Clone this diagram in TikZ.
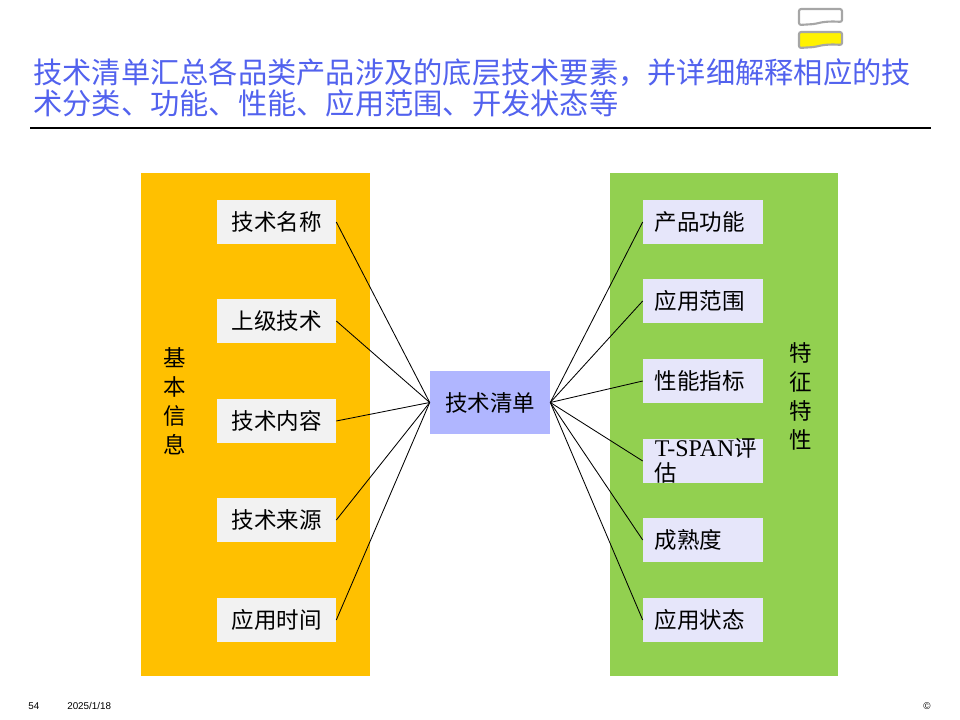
\documentclass[tikz,border=0pt]{standalone}
\usepackage{fontspec}
\setmainfont{Liberation Serif}
\newfontfamily\cjk{Noto Sans CJK SC}
\newfontfamily\foot{Liberation Sans}
\usetikzlibrary{positioning}

\definecolor{titleblue}{RGB}{82,98,238}
\definecolor{leftbg}{RGB}{255,192,0}
\definecolor{rightbg}{RGB}{146,208,80}
\definecolor{leftbox}{RGB}{242,242,242}
\definecolor{rightbox}{RGB}{230,230,250}
\definecolor{midbox}{RGB}{176,182,255}
\definecolor{icongray}{RGB}{166,166,166}

\begin{document}
\begin{tikzpicture}[
    x=0.025cm, y=-0.025cm,
    every node/.style={font=\cjk\fontsize{16}{19}\selectfont},
    lb/.style={rectangle, fill=leftbox, minimum width=2.975cm, minimum height=1.1cm, inner sep=2pt},
    rb/.style={rectangle, fill=rightbox, minimum width=3cm, minimum height=1.1cm,
               inner xsep=0.3cm, inner ysep=2pt, text width=2.4cm, align=left},
    mb/.style={rectangle, fill=midbox, minimum width=3cm, minimum height=1.575cm, inner sep=2pt},
    vlbl/.style={align=center, font=\cjk\fontsize{16}{20.6}\selectfont},
    ln/.style={line width=0.6pt, black},
    icon/.style={draw=icongray, line width=1.5pt, rounded corners=1.5pt},
    ft/.style={font=\foot\fontsize{7}{8}\selectfont, inner sep=0pt},
  ]
  \useasboundingbox (0,0) rectangle (960,720);

  % title
  \node[anchor=north west, align=left, text=titleblue, inner sep=0pt,
        font=\cjk\fontsize{20.8}{22.3}\selectfont] (title) at (33,58)
    {技术清单汇总各品类产品涉及的底层技术要素，并详细解释相应的技\\
     术分类、功能、性能、应用范围、开发状态等};
  \coordinate (rulel) at (30,128);
  \coordinate (ruler) at (931,128);
  \draw[line width=1pt] (rulel) -- (ruler);

  % icons
  \draw[icon] (799,9) -- (842,9) -- (842,22) .. controls (830,21) and (822,22) .. (815,24) -- (799,25) -- cycle;
  \draw[icon, fill=yellow] (799,32) -- (842,32) -- (842,45) .. controls (830,44) and (822,45) .. (815,47) -- (799,48) -- cycle;

  % panels
  \fill[leftbg] (141,173) rectangle (370,676);
  \fill[rightbg] (610,173) rectangle (838,676);

  \node[vlbl] (basic) at (175,401.5) {基\\本\\信\\息};
  \node[vlbl] (feat) at (801,396.5) {特\\征\\特\\性};

  % left boxes
  \node[lb] (l1) at (276.5,222) {技术名称};
  \node[lb] (l2) at (276.5,321) {上级技术};
  \node[lb] (l3) at (276.5,421) {技术内容};
  \node[lb] (l4) at (276.5,520) {技术来源};
  \node[lb] (l5) at (276.5,620) {应用时间};

  % centre
  \node[mb] (tl) at (490,402.5) {技术清单};

  % right boxes
  \node[rb] (r1) at (703,222) {产品功能};
  \node[rb] (r2) at (703,301) {应用范围};
  \node[rb] (r3) at (703,381) {性能指标};
  \node[rb, inner ysep=-1.8pt, font=\cjk\fontsize{16}{18}\selectfont] (r4) at (703,461)
    {\mbox{{\rmfamily\fontsize{17}{18}\selectfont T-SPAN}评}\\估};
  \node[rb] (r5) at (703,540) {成熟度};
  \node[rb] (r6) at (703,620) {应用状态};

  \foreach \i in {1,...,5}
    \draw[ln] (l\i.east) -- (tl.west);
  \foreach \i in {1,...,6}
    \draw[ln] (tl.east) -- (r\i.west);

  % footer
  \node[ft, anchor=west] (pg) at (28,706) {54};
  \node[ft, anchor=west] (dt) at (67,706) {2025/1/18};
  \node[ft] (cp) at (927,706) {©};
\end{tikzpicture}
\end{document}
